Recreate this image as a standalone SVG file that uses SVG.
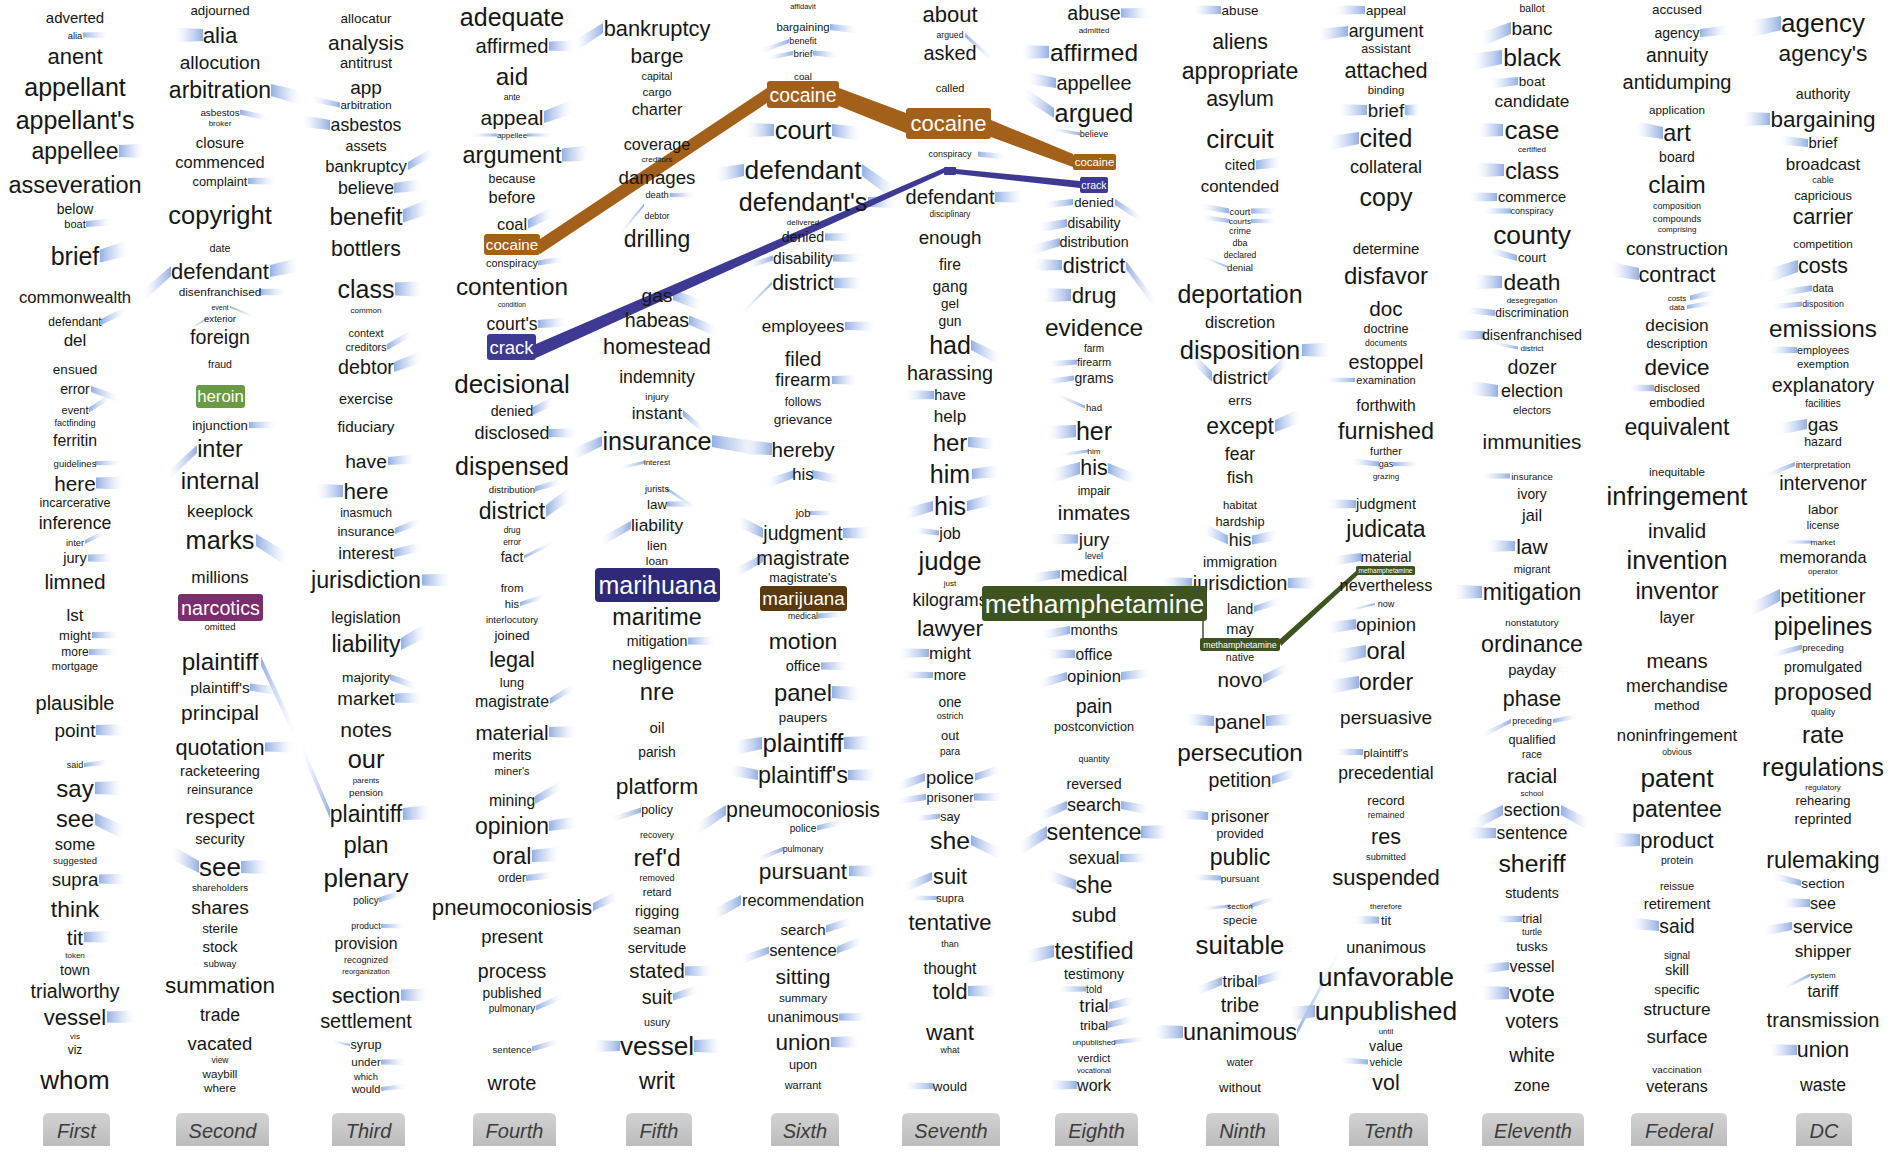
<svg xmlns="http://www.w3.org/2000/svg" width="1890" height="1152" viewBox="0 0 1890 1152">
<style>
.col text{font-family:"Liberation Sans",Arial,sans-serif;fill:#161616;text-anchor:middle;dominant-baseline:central}
.hl text{font-family:"Liberation Sans",Arial,sans-serif;fill:#fff;text-anchor:middle;dominant-baseline:central}
.tabs text{font-family:"Liberation Sans",Arial,sans-serif;font-style:italic;font-size:20px;fill:#3c3c3c;text-anchor:middle;dominant-baseline:central}
.tabs path{fill:url(#tabg)}
.coc{fill:#a3601b}.crk{fill:#3e3a94}.met{fill:#3e5320}
</style>
<defs>
<linearGradient id="gs" x1="0" y1="0" x2="1" y2="0">
<stop offset="0" stop-color="#93afe3" stop-opacity="1"/>
<stop offset="0.5" stop-color="#bccdef" stop-opacity="0.6"/>
<stop offset="1" stop-color="#e6ecf9" stop-opacity="0"/>
</linearGradient>
<linearGradient id="tabg" x1="0" y1="0" x2="0" y2="1">
<stop offset="0" stop-color="#d2d2d2"/><stop offset="1" stop-color="#bcbcbc"/>
</linearGradient>
<path id="s" d="M0,-0.5 L1,-0.6 L1,0.6 L0,0.5 Z" fill="url(#gs)"/>
</defs>
<rect width="1890" height="1152" fill="#fff"/>

<g id="connectors">
<g id="stubs">
<use href="#s" transform="matrix(25 0 0 5 83 35)"/>
<use href="#s" transform="matrix(25 0 0 12 119 151)"/>
<use href="#s" transform="matrix(25 -2 0 6 86 224)"/>
<use href="#s" transform="matrix(28 -8 0 13 100 256)"/>
<use href="#s" transform="matrix(25 -12 0 6 101 322)"/>
<use href="#s" transform="matrix(28 10 0 6 91 389)"/>
<use href="#s" transform="matrix(22 -14 0 5 89 410)"/>
<use href="#s" transform="matrix(25 0 0 4 95 463)"/>
<use href="#s" transform="matrix(28 0 0 11 96 483)"/>
<use href="#s" transform="matrix(20 -10 0 4 85 542)"/>
<use href="#s" transform="matrix(25 0 0 7 88 558)"/>
<use href="#s" transform="matrix(27 0 0 6 92 635)"/>
<use href="#s" transform="matrix(28 0 0 6 89 652)"/>
<use href="#s" transform="matrix(28 0 0 10 96 730)"/>
<use href="#s" transform="matrix(25 -3 0 4 84 765)"/>
<use href="#s" transform="matrix(27 0 0 12 95 788)"/>
<use href="#s" transform="matrix(30 14 0 12 95 819)"/>
<use href="#s" transform="matrix(27 0 0 9 99 879)"/>
<use href="#s" transform="matrix(28 0 0 10 84 937)"/>
<use href="#s" transform="matrix(28 0 0 11 107 1017)"/>

<use href="#s" transform="matrix(30 8 0 12 271 90)"/>
<use href="#s" transform="matrix(28 6 0 5 240 112)"/>
<use href="#s" transform="matrix(28 0 0 6 248 181)"/>
<use href="#s" transform="matrix(28 -6 0 12 270 271)"/>
<use href="#s" transform="matrix(27 0 0 6 259 292)"/>
<use href="#s" transform="matrix(25 10 0 2 230 307)"/>
<use href="#s" transform="matrix(27 0 0 6 249 425)"/>
<use href="#s" transform="matrix(32 20 0 12 256 540)"/>
<use href="#s" transform="matrix(35 75 0 9 261 661)"/>
<use href="#s" transform="matrix(28 4 0 7 250 687)"/>
<use href="#s" transform="matrix(28 0 0 9 265 747)"/>
<use href="#s" transform="matrix(28 0 0 12 241 867)"/>
<use href="#s" transform="matrix(-28 0 0 12 203 35)"/>
<use href="#s" transform="matrix(-28 25 0 10 171 271)"/>
<use href="#s" transform="matrix(-20 12 0 2 208 318)"/>
<use href="#s" transform="matrix(-30 28 0 8 197 449)"/>
<use href="#s" transform="matrix(-28 -15 0 12 199 867)"/>

<use href="#s" transform="matrix(-28 -6 0 5 340 105)"/>
<use href="#s" transform="matrix(-28 -4 0 10 330 125)"/>
<use href="#s" transform="matrix(-27 0 0 12 343 491)"/>
<use href="#s" transform="matrix(-30 -70 0 9 330 814)"/>
<use href="#s" transform="matrix(-18 -4 0 2 350 1045)"/>
<use href="#s" transform="matrix(25 -14 0 8 408 166)"/>
<use href="#s" transform="matrix(27 -3 0 10 394 188)"/>
<use href="#s" transform="matrix(27 -10 0 13 403 216)"/>
<use href="#s" transform="matrix(27 0 0 13 395 289)"/>
<use href="#s" transform="matrix(25 -14 0 6 387 347)"/>
<use href="#s" transform="matrix(27 -10 0 10 394 367)"/>
<use href="#s" transform="matrix(27 -2 0 8 388 461)"/>
<use href="#s" transform="matrix(25 -10 0 6 395 531)"/>
<use href="#s" transform="matrix(27 -6 0 8 394 553)"/>
<use href="#s" transform="matrix(28 0 0 11 422 580)"/>
<use href="#s" transform="matrix(25 -14 0 12 401 644)"/>
<use href="#s" transform="matrix(27 10 0 6 390 677)"/>
<use href="#s" transform="matrix(27 0 0 9 395 698)"/>
<use href="#s" transform="matrix(27 -2 0 12 403 814)"/>
<use href="#s" transform="matrix(25 -8 0 5 379 900)"/>
<use href="#s" transform="matrix(25 0 0 4 381 926)"/>
<use href="#s" transform="matrix(27 0 0 11 401 995)"/>
<use href="#s" transform="matrix(25 0 0 5 381 1062)"/>
<use href="#s" transform="matrix(25 -3 0 4 381 1089)"/>

<use href="#s" transform="matrix(25 0 0 9 549 46)"/>
<use href="#s" transform="matrix(28 -10 0 12 544 117)"/>
<use href="#s" transform="matrix(25 0 0 3 527 135)"/>
<use href="#s" transform="matrix(-25 0 0 3 497 135)"/>
<use href="#s" transform="matrix(27 -2 0 13 562 155)"/>
<use href="#s" transform="matrix(25 -12 0 9 528 224)"/>
<use href="#s" transform="matrix(25 -4 0 5 538 263)"/>
<use href="#s" transform="matrix(28 -2 0 8 538 324)"/>
<use href="#s" transform="matrix(20 -10 0 8 533 411)"/>
<use href="#s" transform="matrix(27 0 0 8 549 433)"/>
<use href="#s" transform="matrix(27 -8 0 5 535 489)"/>
<use href="#s" transform="matrix(25 -18 0 12 546 511)"/>
<use href="#s" transform="matrix(30 -15 0 3 524 557)"/>
<use href="#s" transform="matrix(25 -8 0 4 520 604)"/>
<use href="#s" transform="matrix(25 -15 0 6 550 701)"/>
<use href="#s" transform="matrix(27 0 0 10 549 732)"/>
<use href="#s" transform="matrix(27 -15 0 8 535 800)"/>
<use href="#s" transform="matrix(27 -4 0 10 549 826)"/>
<use href="#s" transform="matrix(27 -2 0 12 532 856)"/>
<use href="#s" transform="matrix(27 -3 0 6 526 878)"/>
<use href="#s" transform="matrix(25 -12 0 8 593 907)"/>
<use href="#s" transform="matrix(27 -12 0 5 536 1008)"/>
<use href="#s" transform="matrix(27 -8 0 5 532 1049)"/>

<use href="#s" transform="matrix(-28 18 0 10 603 28)"/>
<use href="#s" transform="matrix(25 0 0 4 670 195)"/>
<use href="#s" transform="matrix(-25 30 0 3 644 205)"/>
<use href="#s" transform="matrix(28 10 0 10 673 295)"/>
<use href="#s" transform="matrix(28 12 0 9 689 320)"/>
<use href="#s" transform="matrix(22 18 0 6 683 413)"/>
<use href="#s" transform="matrix(50 8 0 12 712 441)"/>
<use href="#s" transform="matrix(-30 14 0 10 602 441)"/>
<use href="#s" transform="matrix(-25 6 0 3 645 462)"/>
<use href="#s" transform="matrix(30 20 0 3 667 489)"/>
<use href="#s" transform="matrix(27 0 0 5 667 504)"/>
<use href="#s" transform="matrix(-30 17 0 8 631 525)"/>
<use href="#s" transform="matrix(27 0 0 7 688 641)"/>
<use href="#s" transform="matrix(-30 10 0 5 641 810)"/>
<use href="#s" transform="matrix(27 0 0 9 685 971)"/>
<use href="#s" transform="matrix(25 -8 0 7 673 997)"/>
<use href="#s" transform="matrix(27 0 0 12 694 1046)"/>
<use href="#s" transform="matrix(-27 0 0 10 620 1046)"/>

<use href="#s" transform="matrix(27 3 0 6 830 27)"/>
<use href="#s" transform="matrix(-28 10 0 4 789 41)"/>
<use href="#s" transform="matrix(25 2 0 5 813 53)"/>
<use href="#s" transform="matrix(-25 5 0 4 793 53)"/>
<use href="#s" transform="matrix(28 4 0 12 832 130)"/>
<use href="#s" transform="matrix(-28 0 0 12 774 130)"/>
<use href="#s" transform="matrix(-28 5 0 12 744 170)"/>
<use href="#s" transform="matrix(35 25 0 12 862 170)"/>
<use href="#s" transform="matrix(28 0 0 10 868 202)"/>
<use href="#s" transform="matrix(27 0 0 7 825 237)"/>
<use href="#s" transform="matrix(28 0 0 7 833 258)"/>
<use href="#s" transform="matrix(-25 8 0 5 773 258)"/>
<use href="#s" transform="matrix(28 0 0 10 834 283)"/>
<use href="#s" transform="matrix(-30 30 0 3 772 283)"/>
<use href="#s" transform="matrix(30 0 0 8 845 326)"/>
<use href="#s" transform="matrix(25 0 0 8 832 380)"/>
<use href="#s" transform="matrix(-28 -2 0 12 772 449)"/>
<use href="#s" transform="matrix(28 6 0 8 812 474)"/>
<use href="#s" transform="matrix(-28 10 0 8 794 474)"/>
<use href="#s" transform="matrix(25 0 0 4 809 513)"/>
<use href="#s" transform="matrix(27 0 0 10 843 533)"/>
<use href="#s" transform="matrix(-25 -12 0 10 763 533)"/>
<use href="#s" transform="matrix(-28 15 0 8 763 558)"/>
<use href="#s" transform="matrix(25 -2 0 5 818 616)"/>
<use href="#s" transform="matrix(27 0 0 7 821 666)"/>
<use href="#s" transform="matrix(28 2 0 12 832 692)"/>
<use href="#s" transform="matrix(28 0 0 12 844 743)"/>
<use href="#s" transform="matrix(-28 5 0 12 762 743)"/>
<use href="#s" transform="matrix(28 0 0 10 848 775)"/>
<use href="#s" transform="matrix(-28 -5 0 10 758 775)"/>
<use href="#s" transform="matrix(-30 20 0 10 726 810)"/>
<use href="#s" transform="matrix(25 -6 0 5 817 828)"/>
<use href="#s" transform="matrix(-25 10 0 4 783 849)"/>
<use href="#s" transform="matrix(28 0 0 10 849 871)"/>
<use href="#s" transform="matrix(-28 15 0 10 741 900)"/>
<use href="#s" transform="matrix(25 -8 0 7 826 929)"/>
<use href="#s" transform="matrix(25 -10 0 7 837 950)"/>
<use href="#s" transform="matrix(-28 10 0 7 769 950)"/>
<use href="#s" transform="matrix(28 0 0 7 839 1017)"/>
<use href="#s" transform="matrix(28 0 0 10 831 1042)"/>

<use href="#s" transform="matrix(28 25 0 4 965 35)"/>
<use href="#s" transform="matrix(28 3 0 5 978 154)"/>
<use href="#s" transform="matrix(28 0 0 10 995 197)"/>
<use href="#s" transform="matrix(30 15 0 10 971 345)"/>
<use href="#s" transform="matrix(27 2 0 10 968 442)"/>
<use href="#s" transform="matrix(27 -3 0 10 972 474)"/>
<use href="#s" transform="matrix(27 -7 0 10 967 506)"/>
<use href="#s" transform="matrix(25 -8 0 7 975 777)"/>
<use href="#s" transform="matrix(28 0 0 7 974 797)"/>
<use href="#s" transform="matrix(30 14 0 10 971 840)"/>
<use href="#s" transform="matrix(28 0 0 10 968 991)"/>
<use href="#s" transform="matrix(-28 0 0 8 934 395)"/>
<use href="#s" transform="matrix(-28 8 0 10 933 506)"/>
<use href="#s" transform="matrix(-25 -3 0 5 939 533)"/>
<use href="#s" transform="matrix(-30 0 0 8 929 653)"/>
<use href="#s" transform="matrix(-30 0 0 6 933 675)"/>
<use href="#s" transform="matrix(-28 10 0 8 925 777)"/>
<use href="#s" transform="matrix(-28 4 0 6 926 797)"/>
<use href="#s" transform="matrix(-25 3 0 5 940 816)"/>
<use href="#s" transform="matrix(-28 12 0 8 932 876)"/>
<use href="#s" transform="matrix(-28 0 0 4 938 898)"/>
<use href="#s" transform="matrix(-30 0 0 6 934 1086)"/>

<use href="#s" transform="matrix(28 0 0 9 1121 13)"/>
<use href="#s" transform="matrix(-28 0 0 12 1049 52)"/>
<use href="#s" transform="matrix(-28 -5 0 10 1056 83)"/>
<use href="#s" transform="matrix(-30 -20 0 10 1054 113)"/>
<use href="#s" transform="matrix(-28 -5 0 3 1080 134)"/>
<use href="#s" transform="matrix(-28 3 0 6 1073 202)"/>
<use href="#s" transform="matrix(28 18 0 6 1115 202)"/>
<use href="#s" transform="matrix(-28 5 0 8 1067 223)"/>
<use href="#s" transform="matrix(-28 8 0 8 1060 242)"/>
<use href="#s" transform="matrix(-28 0 0 10 1062 265)"/>
<use href="#s" transform="matrix(30 40 0 8 1126 265)"/>
<use href="#s" transform="matrix(-28 0 0 12 1071 295)"/>
<use href="#s" transform="matrix(-28 2 0 5 1077 362)"/>
<use href="#s" transform="matrix(-28 4 0 5 1074 378)"/>
<use href="#s" transform="matrix(-28 -12 0 3 1085 407)"/>
<use href="#s" transform="matrix(-28 2 0 12 1076 431)"/>
<use href="#s" transform="matrix(-28 4 0 3 1088 451)"/>
<use href="#s" transform="matrix(-28 8 0 12 1080 468)"/>
<use href="#s" transform="matrix(28 12 0 10 1108 468)"/>
<use href="#s" transform="matrix(-28 0 0 9 1078 539)"/>
<use href="#s" transform="matrix(-28 4 0 8 1060 574)"/>
<use href="#s" transform="matrix(-28 5 0 8 1070 630)"/>
<use href="#s" transform="matrix(-28 0 0 8 1075 654)"/>
<use href="#s" transform="matrix(-28 8 0 8 1067 676)"/>
<use href="#s" transform="matrix(28 -3 0 8 1121 676)"/>
<use href="#s" transform="matrix(-28 12 0 8 1067 805)"/>
<use href="#s" transform="matrix(28 5 0 8 1121 805)"/>
<use href="#s" transform="matrix(-28 17 0 12 1047 832)"/>
<use href="#s" transform="matrix(28 0 0 12 1141 832)"/>
<use href="#s" transform="matrix(28 0 0 8 1120 858)"/>
<use href="#s" transform="matrix(-28 -10 0 10 1076 885)"/>
<use href="#s" transform="matrix(-28 6 0 12 1054 951)"/>
<use href="#s" transform="matrix(-28 0 0 5 1086 989)"/>
<use href="#s" transform="matrix(25 -6 0 7 1109 1006)"/>
<use href="#s" transform="matrix(25 -6 0 6 1108 1025)"/>
<use href="#s" transform="matrix(30 -3 0 4 1115 1042)"/>
<use href="#s" transform="matrix(-28 0 0 8 1077 1085)"/>

<use href="#s" transform="matrix(-28 0 0 8 1221 10)"/>
<use href="#s" transform="matrix(25 -3 0 9 1256 165)"/>
<use href="#s" transform="matrix(-28 -5 0 5 1229 211)"/>
<use href="#s" transform="matrix(25 0 0 5 1251 211)"/>
<use href="#s" transform="matrix(-28 -4 0 4 1230 221)"/>
<use href="#s" transform="matrix(25 0 0 4 1251 221)"/>
<use href="#s" transform="matrix(-25 -10 0 2 1228 267)"/>
<use href="#s" transform="matrix(28 0 0 12 1302 350)"/>
<use href="#s" transform="matrix(-20 -20 0 10 1212 377)"/>
<use href="#s" transform="matrix(20 -18 0 10 1268 377)"/>
<use href="#s" transform="matrix(25 -10 0 12 1275 426)"/>
<use href="#s" transform="matrix(25 -5 0 9 1252 540)"/>
<use href="#s" transform="matrix(-25 -12 0 9 1228 540)"/>
<use href="#s" transform="matrix(-30 0 0 10 1192 583)"/>
<use href="#s" transform="matrix(28 0 0 10 1288 583)"/>
<use href="#s" transform="matrix(25 -8 0 6 1254 609)"/>
<use href="#s" transform="matrix(25 -12 0 8 1263 679)"/>
<use href="#s" transform="matrix(28 -2 0 10 1266 721)"/>
<use href="#s" transform="matrix(-28 -2 0 10 1214 721)"/>
<use href="#s" transform="matrix(25 -8 0 8 1272 780)"/>
<use href="#s" transform="matrix(-28 -2 0 8 1208 816)"/>
<use href="#s" transform="matrix(-28 -1 0 5 1221 878)"/>
<use href="#s" transform="matrix(-28 3 0 3 1230 906)"/>
<use href="#s" transform="matrix(25 -8 0 4 1250 906)"/>
<use href="#s" transform="matrix(25 -7 0 8 1258 981)"/>
<use href="#s" transform="matrix(-25 10 0 8 1222 981)"/>
<use href="#s" transform="matrix(-30 0 0 12 1183 1032)"/>
<use href="#s" transform="matrix(45 -85 0 6 1297 1032)"/>

<use href="#s" transform="matrix(-30 0 0 8 1365 10)"/>
<use href="#s" transform="matrix(-30 4 0 10 1348 31)"/>
<use href="#s" transform="matrix(-28 0 0 10 1367 110)"/>
<use href="#s" transform="matrix(15 0 0 10 1405 110)"/>
<use href="#s" transform="matrix(-30 5 0 12 1359 138)"/>
<use href="#s" transform="matrix(-30 0 0 4 1355 380)"/>
<use href="#s" transform="matrix(-28 -3 0 5 1379 464)"/>
<use href="#s" transform="matrix(25 0 0 4 1393 464)"/>
<use href="#s" transform="matrix(-28 0 0 8 1356 504)"/>
<use href="#s" transform="matrix(-28 4 0 8 1361 557)"/>
<use href="#s" transform="matrix(-25 6 0 2 1375 604)"/>
<use href="#s" transform="matrix(-28 4 0 10 1356 624)"/>
<use href="#s" transform="matrix(-30 6 0 12 1366 651)"/>
<use href="#s" transform="matrix(-30 5 0 12 1359 682)"/>
<use href="#s" transform="matrix(-28 0 0 6 1363 752)"/>
<use href="#s" transform="matrix(-25 0 0 7 1379 920)"/>
<use href="#s" transform="matrix(-25 3 0 12 1315 1011)"/>
<use href="#s" transform="matrix(-28 -2 0 5 1368 1062)"/>

<use href="#s" transform="matrix(-30 12 0 12 1511 28)"/>
<use href="#s" transform="matrix(-30 5 0 14 1502 57)"/>
<use href="#s" transform="matrix(-28 3 0 8 1518 81)"/>
<use href="#s" transform="matrix(-25 0 0 12 1503 130)"/>
<use href="#s" transform="matrix(-28 0 0 12 1504 170)"/>
<use href="#s" transform="matrix(-28 0 0 8 1497 197)"/>
<use href="#s" transform="matrix(-28 0 0 5 1511 211)"/>
<use href="#s" transform="matrix(-28 -8 0 6 1517 258)"/>
<use href="#s" transform="matrix(-28 0 0 12 1502 282)"/>
<use href="#s" transform="matrix(-28 -3 0 6 1495 313)"/>
<use href="#s" transform="matrix(-30 0 0 8 1485 335)"/>
<use href="#s" transform="matrix(-25 -5 0 3 1518 348)"/>
<use href="#s" transform="matrix(-28 -3 0 12 1498 391)"/>
<use href="#s" transform="matrix(-28 0 0 5 1510 476)"/>
<use href="#s" transform="matrix(-28 0 0 10 1515 546)"/>
<use href="#s" transform="matrix(-28 0 0 12 1482 592)"/>
<use href="#s" transform="matrix(-30 15 0 4 1511 721)"/>
<use href="#s" transform="matrix(25 -5 0 4 1553 721)"/>
<use href="#s" transform="matrix(-30 15 0 10 1503 810)"/>
<use href="#s" transform="matrix(28 15 0 10 1561 810)"/>
<use href="#s" transform="matrix(-28 0 0 10 1496 833)"/>
<use href="#s" transform="matrix(-28 0 0 6 1522 919)"/>
<use href="#s" transform="matrix(-28 3 0 8 1509 966)"/>
<use href="#s" transform="matrix(-28 0 0 12 1509 993)"/>

<use href="#s" transform="matrix(28 -3 0 8 1700 33)"/>
<use href="#s" transform="matrix(-28 -5 0 12 1663 133)"/>
<use href="#s" transform="matrix(-28 -5 0 12 1639 274)"/>
<use href="#s" transform="matrix(25 -6 0 5 1690 298)"/>
<use href="#s" transform="matrix(25 -4 0 4 1687 307)"/>
<use href="#s" transform="matrix(-25 0 0 6 1654 388)"/>
<use href="#s" transform="matrix(-28 0 0 12 1640 840)"/>
<use href="#s" transform="matrix(-28 -3 0 10 1659 926)"/>

<use href="#s" transform="matrix(-30 6 0 14 1781 23)"/>
<use href="#s" transform="matrix(-28 0 0 12 1770 119)"/>
<use href="#s" transform="matrix(-28 -3 0 8 1808 143)"/>
<use href="#s" transform="matrix(-30 10 0 12 1798 266)"/>
<use href="#s" transform="matrix(-30 5 0 6 1812 288)"/>
<use href="#s" transform="matrix(-30 3 0 5 1802 304)"/>
<use href="#s" transform="matrix(-28 0 0 6 1797 350)"/>
<use href="#s" transform="matrix(-28 5 0 10 1807 424)"/>
<use href="#s" transform="matrix(-30 12 0 4 1795 464)"/>
<use href="#s" transform="matrix(-28 0 0 3 1812 542)"/>
<use href="#s" transform="matrix(-30 15 0 12 1780 595)"/>
<use href="#s" transform="matrix(-30 8 0 5 1802 647)"/>
<use href="#s" transform="matrix(-28 -7 0 6 1801 883)"/>
<use href="#s" transform="matrix(-28 0 0 8 1810 903)"/>
<use href="#s" transform="matrix(-28 5 0 8 1792 926)"/>
<use href="#s" transform="matrix(-28 14 0 3 1810 975)"/>
<use href="#s" transform="matrix(-28 0 0 10 1797 1050)"/>
</g>
<g id="trails">
<polygon class="coc" points="540,239 767,88 767,103 540,254"/>
<polygon class="coc" points="839,88 906,113 906,133 839,106"/>
<polygon class="coc" points="991,120 1073,154 1073,167 991,137"/>
<polygon class="crk" points="536,344 944,168 944,173 536,358"/>
<polygon class="crk" points="956,169 1080,181 1080,188 956,174"/>
<line x1="1203" y1="621" x2="1203" y2="638" stroke="#3e5320" stroke-width="1.5"/>
<polygon class="met" points="1279,640 1357,570 1359,574 1281,646"/>
</g>
</g>

<g id="col-first" class="col" transform="translate(75 0)">
<text y="17" font-size="15">adverted</text>
<text y="35" font-size="9.4">alia</text>
<text y="56" font-size="22">anent</text>
<text y="87" font-size="25">appellant</text>
<text y="120" font-size="25">appellant's</text>
<text y="151" font-size="23">appellee</text>
<text y="185" font-size="23.5">asseveration</text>
<text y="209" font-size="14">below</text>
<text y="224" font-size="11">boat</text>
<text y="256" font-size="25">brief</text>
<text y="297" font-size="16.7">commonwealth</text>
<text y="322" font-size="12">defendant</text>
<text y="340" font-size="17">del</text>
<text y="369" font-size="13.5">ensued</text>
<text y="389" font-size="14">error</text>
<text y="410" font-size="11">event</text>
<text y="423" font-size="9">factfinding</text>
<text y="440" font-size="15.8">ferritin</text>
<text y="463" font-size="9.5">guidelines</text>
<text y="483" font-size="20.7">here</text>
<text y="503" font-size="12.5">incarcerative</text>
<text y="523" font-size="17.7">inference</text>
<text y="542" font-size="9.4">inter</text>
<text y="558" font-size="14.5">jury</text>
<text y="581" font-size="20.8">limned</text>
<text y="615" font-size="17">lst</text>
<text y="635" font-size="13">might</text>
<text y="652" font-size="12">more</text>
<text y="666" font-size="11">mortgage</text>
<text y="703" font-size="20">plausible</text>
<text y="730" font-size="19">point</text>
<text y="765" font-size="9">said</text>
<text y="788" font-size="24">say</text>
<text y="819" font-size="23.6">see</text>
<text y="844" font-size="16.5">some</text>
<text y="860" font-size="9.5">suggested</text>
<text y="879" font-size="18.7">supra</text>
<text y="909" font-size="22.9">think</text>
<text y="937" font-size="21">tit</text>
<text y="955" font-size="8">token</text>
<text y="970" font-size="14.2">town</text>
<text y="991" font-size="19.5">trialworthy</text>
<text y="1017" font-size="22">vessel</text>
<text y="1036" font-size="8">vis</text>
<text y="1050" font-size="12">viz</text>
<text y="1080" font-size="26">whom</text>
</g>

<g id="col-second" class="col" transform="translate(220 0)">
<text y="10" font-size="13.3">adjourned</text>
<text y="35" font-size="22.3">alia</text>
<text y="62" font-size="19.1">allocution</text>
<text y="90" font-size="23">arbitration</text>
<text y="112" font-size="9.8">asbestos</text>
<text y="123" font-size="8">broker</text>
<text y="142" font-size="15">closure</text>
<text y="162" font-size="16.4">commenced</text>
<text y="181" font-size="12.8">complaint</text>
<text y="215" font-size="25.5">copyright</text>
<text y="248" font-size="10.8">date</text>
<text y="271" font-size="22">defendant</text>
<text y="292" font-size="11.8">disenfranchised</text>
<text y="307" font-size="7">event</text>
<text y="318" font-size="9.6">exterior</text>
<text y="337" font-size="19.6">foreign</text>
<text y="364" font-size="10.5">fraud</text>
<text y="425" font-size="13.2">injunction</text>
<text y="449" font-size="23.5">inter</text>
<text y="480" font-size="24">internal</text>
<text y="511" font-size="16.7">keeplock</text>
<text y="540" font-size="25.3">marks</text>
<text y="577" font-size="17.2">millions</text>
<text y="626" font-size="9.5">omitted</text>
<text y="661" font-size="24.3">plaintiff</text>
<text y="687" font-size="15.5">plaintiff's</text>
<text y="712" font-size="20.9">principal</text>
<text y="747" font-size="21.7">quotation</text>
<text y="771" font-size="14.5">racketeering</text>
<text y="790" font-size="12.6">reinsurance</text>
<text y="816" font-size="21">respect</text>
<text y="839" font-size="14.4">security</text>
<text y="867" font-size="26">see</text>
<text y="887" font-size="9.7">shareholders</text>
<text y="907" font-size="19.2">shares</text>
<text y="928" font-size="13.4">sterile</text>
<text y="946" font-size="15">stock</text>
<text y="963" font-size="9.7">subway</text>
<text y="985" font-size="22.5">summation</text>
<text y="1015" font-size="17.6">trade</text>
<text y="1043" font-size="18.5">vacated</text>
<text y="1060" font-size="8.5">view</text>
<text y="1073" font-size="11.6">waybill</text>
<text y="1088" font-size="11.8">where</text>
</g>

<g id="col-third" class="col" transform="translate(366 0)">
<text y="18" font-size="13.5">allocatur</text>
<text y="42" font-size="21">analysis</text>
<text y="63" font-size="14.7">antitrust</text>
<text y="87" font-size="19">app</text>
<text y="105" font-size="11.5">arbitration</text>
<text y="125" font-size="17.7">asbestos</text>
<text y="146" font-size="14.2">assets</text>
<text y="166" font-size="16.7">bankruptcy</text>
<text y="188" font-size="17.7">believe</text>
<text y="216" font-size="24.4">benefit</text>
<text y="249" font-size="21.3">bottlers</text>
<text y="289" font-size="25">class</text>
<text y="310" font-size="8.1">common</text>
<text y="333" font-size="10.9">context</text>
<text y="347" font-size="10.7">creditors</text>
<text y="367" font-size="19.7">debtor</text>
<text y="399" font-size="14.5">exercise</text>
<text y="426" font-size="15.3">fiduciary</text>
<text y="461" font-size="19.2">have</text>
<text y="491" font-size="22.5">here</text>
<text y="513" font-size="12.1">inasmuch</text>
<text y="531" font-size="13.2">insurance</text>
<text y="553" font-size="17">interest</text>
<text y="580" font-size="23.3">jurisdiction</text>
<text y="617" font-size="15.6">legislation</text>
<text y="644" font-size="23">liability</text>
<text y="677" font-size="13.7">majority</text>
<text y="698" font-size="18.8">market</text>
<text y="729" font-size="21.1">notes</text>
<text y="759" font-size="25.4">our</text>
<text y="780" font-size="8">parents</text>
<text y="792" font-size="9.7">pension</text>
<text y="814" font-size="23">plaintiff</text>
<text y="844" font-size="23.8">plan</text>
<text y="878" font-size="25.9">plenary</text>
<text y="900" font-size="10">policy</text>
<text y="926" font-size="8.8">product</text>
<text y="943" font-size="15.8">provision</text>
<text y="960" font-size="9">recognized</text>
<text y="971" font-size="7.5">reorganization</text>
<text y="995" font-size="21.7">section</text>
<text y="1021" font-size="19.9">settlement</text>
<text y="1045" font-size="12.7">syrup</text>
<text y="1062" font-size="11.5">under</text>
<text y="1076" font-size="9.4">which</text>
<text y="1089" font-size="11">would</text>
</g>

<g id="col-fourth" class="col" transform="translate(512 0)">
<text y="17" font-size="25">adequate</text>
<text y="46" font-size="20.3">affirmed</text>
<text y="76" font-size="24.2">aid</text>
<text y="97" font-size="8.6">ante</text>
<text y="117" font-size="21">appeal</text>
<text y="135" font-size="8">appellee</text>
<text y="155" font-size="23.4">argument</text>
<text y="179" font-size="12.4">because</text>
<text y="197" font-size="16.5">before</text>
<text y="224" font-size="16.4">coal</text>
<text y="263" font-size="10.9">conspiracy</text>
<text y="286" font-size="24.3">contention</text>
<text y="304" font-size="7">condition</text>
<text y="324" font-size="17.5">court's</text>
<text y="384" font-size="26">decisional</text>
<text y="411" font-size="14.2">denied</text>
<text y="433" font-size="18">disclosed</text>
<text y="466" font-size="25">dispensed</text>
<text y="489" font-size="9.6">distribution</text>
<text y="511" font-size="23">district</text>
<text y="530" font-size="8.4">drug</text>
<text y="542" font-size="8.4">error</text>
<text y="557" font-size="14">fact</text>
<text y="588" font-size="11.3">from</text>
<text y="604" font-size="11.2">his</text>
<text y="619" font-size="9.6">interlocutory</text>
<text y="635" font-size="13.2">joined</text>
<text y="659" font-size="21.6">legal</text>
<text y="682" font-size="12.9">lung</text>
<text y="701" font-size="15.9">magistrate</text>
<text y="732" font-size="20.6">material</text>
<text y="755" font-size="14.3">merits</text>
<text y="771" font-size="11">miner's</text>
<text y="800" font-size="15.7">mining</text>
<text y="826" font-size="23">opinion</text>
<text y="856" font-size="23.4">oral</text>
<text y="878" font-size="12">order</text>
<text y="907" font-size="22.2">pneumoconiosis</text>
<text y="936" font-size="18.5">present</text>
<text y="971" font-size="19.5">process</text>
<text y="993" font-size="13.8">published</text>
<text y="1008" font-size="10">pulmonary</text>
<text y="1049" font-size="9.6">sentence</text>
<text y="1083" font-size="20">wrote</text>
</g>

<g id="col-fifth" class="col" transform="translate(657 0)">
<text y="28" font-size="21.8">bankruptcy</text>
<text y="55" font-size="20.8">barge</text>
<text y="76" font-size="10.7">capital</text>
<text y="91" font-size="11.7">cargo</text>
<text y="109" font-size="16.3">charter</text>
<text y="144" font-size="16.2">coverage</text>
<text y="159" font-size="8.1">creditors</text>
<text y="177" font-size="18.7">damages</text>
<text y="195" font-size="9.3">death</text>
<text y="216" font-size="8.8">debtor</text>
<text y="239" font-size="23">drilling</text>
<text y="295" font-size="19.2">gas</text>
<text y="320" font-size="19.6">habeas</text>
<text y="346" font-size="21.8">homestead</text>
<text y="377" font-size="17.7">indemnity</text>
<text y="396" font-size="9.8">injury</text>
<text y="413" font-size="17.2">instant</text>
<text y="441" font-size="25.2">insurance</text>
<text y="462" font-size="8">interest</text>
<text y="489" font-size="9.2">jurists</text>
<text y="504" font-size="13.3">law</text>
<text y="525" font-size="17.4">liability</text>
<text y="545" font-size="12.9">lien</text>
<text y="561" font-size="11.8">loan</text>
<text y="617" font-size="23.3">maritime</text>
<text y="641" font-size="14.2">mitigation</text>
<text y="663" font-size="18.6">negligence</text>
<text y="691" font-size="23.8">nre</text>
<text y="727" font-size="15">oil</text>
<text y="752" font-size="13.8">parish</text>
<text y="786" font-size="22.8">platform</text>
<text y="810" font-size="12.4">policy</text>
<text y="835" font-size="8.9">recovery</text>
<text y="857" font-size="24.7">ref'd</text>
<text y="878" font-size="9">removed</text>
<text y="892" font-size="10.9">retard</text>
<text y="911" font-size="14.7">rigging</text>
<text y="929" font-size="13.4">seaman</text>
<text y="948" font-size="14.4">servitude</text>
<text y="971" font-size="20.4">stated</text>
<text y="997" font-size="19.7">suit</text>
<text y="1022" font-size="10.6">usury</text>
<text y="1046" font-size="26.2">vessel</text>
<text y="1081" font-size="23">writ</text>
</g>

<g id="col-sixth" class="col" transform="translate(803 0)">
<text y="6" font-size="7.5">affidavit</text>
<text y="27" font-size="11.4">bargaining</text>
<text y="41" font-size="9.1">benefit</text>
<text y="53" font-size="9.8">brief</text>
<text y="76" font-size="9.8">coal</text>
<text y="130" font-size="25.5">court</text>
<text y="170" font-size="26.3">defendant</text>
<text y="202" font-size="25">defendant's</text>
<text y="222" font-size="8">delivered</text>
<text y="237" font-size="14.1">denied</text>
<text y="258" font-size="15.6">disability</text>
<text y="283" font-size="21.3">district</text>
<text y="326" font-size="17.1">employees</text>
<text y="359" font-size="20">filed</text>
<text y="380" font-size="17.8">firearm</text>
<text y="402" font-size="12">follows</text>
<text y="419" font-size="13.5">grievance</text>
<text y="449" font-size="20.7">hereby</text>
<text y="474" font-size="16.7">his</text>
<text y="513" font-size="11">job</text>
<text y="533" font-size="19.3">judgment</text>
<text y="558" font-size="20">magistrate</text>
<text y="578" font-size="12.6">magistrate's</text>
<text y="616" font-size="8.7">medical</text>
<text y="641" font-size="22.9">motion</text>
<text y="666" font-size="14.6">office</text>
<text y="692" font-size="23.8">panel</text>
<text y="717" font-size="13.4">paupers</text>
<text y="743" font-size="25.7">plaintiff</text>
<text y="775" font-size="23.4">plaintiff's</text>
<text y="810" font-size="21.3">pneumoconiosis</text>
<text y="828" font-size="10.2">police</text>
<text y="849" font-size="8.7">pulmonary</text>
<text y="871" font-size="22.7">pursuant</text>
<text y="900" font-size="16.4">recommendation</text>
<text y="929" font-size="15">search</text>
<text y="950" font-size="16.7">sentence</text>
<text y="976" font-size="21">sitting</text>
<text y="997" font-size="11.7">summary</text>
<text y="1017" font-size="14.5">unanimous</text>
<text y="1042" font-size="22.5">union</text>
<text y="1065" font-size="12.7">upon</text>
<text y="1085" font-size="11">warrant</text>
</g>

<g id="col-seventh" class="col" transform="translate(950 0)">
<text y="14" font-size="22">about</text>
<text y="35" font-size="8.7">argued</text>
<text y="53" font-size="19.9">asked</text>
<text y="88" font-size="11">called</text>
<text y="154" font-size="9">conspiracy</text>
<text y="197" font-size="20">defendant</text>
<text y="214" font-size="8.3">disciplinary</text>
<text y="237" font-size="18.8">enough</text>
<text y="264" font-size="15.7">fire</text>
<text y="286" font-size="15.7">gang</text>
<text y="303" font-size="13.5">gel</text>
<text y="321" font-size="13.8">gun</text>
<text y="345" font-size="25">had</text>
<text y="373" font-size="19.8">harassing</text>
<text y="395" font-size="14.5">have</text>
<text y="416" font-size="17.2">help</text>
<text y="442" font-size="24">her</text>
<text y="474" font-size="25">him</text>
<text y="506" font-size="25">his</text>
<text y="533" font-size="16">job</text>
<text y="561" font-size="25.7">judge</text>
<text y="583" font-size="8">just</text>
<text y="600" font-size="17.5">kilograms</text>
<text y="628" font-size="22.9">lawyer</text>
<text y="653" font-size="17.2">might</text>
<text y="675" font-size="14.3">more</text>
<text y="702" font-size="13.8">one</text>
<text y="716" font-size="9">ostrich</text>
<text y="735" font-size="13">out</text>
<text y="751" font-size="10">para</text>
<text y="777" font-size="18.4">police</text>
<text y="797" font-size="13">prisoner</text>
<text y="816" font-size="13">say</text>
<text y="840" font-size="24.8">she</text>
<text y="876" font-size="21.8">suit</text>
<text y="898" font-size="11">supra</text>
<text y="922" font-size="22">tentative</text>
<text y="944" font-size="9">than</text>
<text y="968" font-size="15.9">thought</text>
<text y="991" font-size="21.7">told</text>
<text y="1032" font-size="22.8">want</text>
<text y="1050" font-size="9">what</text>
<text y="1086" font-size="13">would</text>
</g>

<g id="col-eighth" class="col" transform="translate(1094 0)">
<text y="13" font-size="19.6">abuse</text>
<text y="30" font-size="8">admitted</text>
<text y="52" font-size="24.5">affirmed</text>
<text y="83" font-size="19.8">appellee</text>
<text y="113" font-size="25.3">argued</text>
<text y="134" font-size="9">believe</text>
<text y="202" font-size="13.2">denied</text>
<text y="223" font-size="13.8">disability</text>
<text y="242" font-size="14.3">distribution</text>
<text y="265" font-size="21.7">district</text>
<text y="295" font-size="22.3">drug</text>
<text y="327" font-size="24.5">evidence</text>
<text y="348" font-size="10">farm</text>
<text y="362" font-size="11">firearm</text>
<text y="378" font-size="14">grams</text>
<text y="407" font-size="9.6">had</text>
<text y="431" font-size="25">her</text>
<text y="451" font-size="8">him</text>
<text y="468" font-size="21.4">his</text>
<text y="491" font-size="12">impair</text>
<text y="512" font-size="20.7">inmates</text>
<text y="539" font-size="19">jury</text>
<text y="556" font-size="8.8">level</text>
<text y="574" font-size="19.4">medical</text>
<text y="630" font-size="14.4">months</text>
<text y="654" font-size="15.6">office</text>
<text y="676" font-size="16.7">opinion</text>
<text y="706" font-size="19.4">pain</text>
<text y="727" font-size="12.6">postconviction</text>
<text y="759" font-size="8.9">quantity</text>
<text y="784" font-size="14.2">reversed</text>
<text y="805" font-size="18">search</text>
<text y="832" font-size="23.4">sentence</text>
<text y="858" font-size="17.5">sexual</text>
<text y="885" font-size="23">she</text>
<text y="914" font-size="20.6">subd</text>
<text y="951" font-size="23">testified</text>
<text y="974" font-size="14">testimony</text>
<text y="989" font-size="10">told</text>
<text y="1006" font-size="18.2">trial</text>
<text y="1025" font-size="13">tribal</text>
<text y="1042" font-size="8">unpublished</text>
<text y="1058" font-size="11">verdict</text>
<text y="1070" font-size="7.5">vocational</text>
<text y="1085" font-size="16">work</text>
</g>

<g id="col-ninth" class="col" transform="translate(1240 0)">
<text y="10" font-size="13.5">abuse</text>
<text y="42" font-size="21.3">aliens</text>
<text y="71" font-size="23">appropriate</text>
<text y="99" font-size="21.4">asylum</text>
<text y="139" font-size="25.9">circuit</text>
<text y="165" font-size="14.4">cited</text>
<text y="186" font-size="16.8">contended</text>
<text y="211" font-size="9.4">court</text>
<text y="221" font-size="8">courts</text>
<text y="231" font-size="9">crime</text>
<text y="243" font-size="9">dba</text>
<text y="255" font-size="8.5">declared</text>
<text y="267" font-size="9.7">denial</text>
<text y="294" font-size="25">deportation</text>
<text y="322" font-size="16.4">discretion</text>
<text y="350" font-size="25.5">disposition</text>
<text y="377" font-size="19">district</text>
<text y="400" font-size="13.7">errs</text>
<text y="426" font-size="23">except</text>
<text y="454" font-size="17.6">fear</text>
<text y="477" font-size="17.1">fish</text>
<text y="505" font-size="11.3">habitat</text>
<text y="521" font-size="12.8">hardship</text>
<text y="540" font-size="17.7">his</text>
<text y="562" font-size="14.3">immigration</text>
<text y="583" font-size="20">jurisdiction</text>
<text y="609" font-size="13.9">land</text>
<text y="629" font-size="14.6">may</text>
<text y="657" font-size="10.6">native</text>
<text y="679" font-size="20.7">novo</text>
<text y="721" font-size="20.9">panel</text>
<text y="752" font-size="24.3">persecution</text>
<text y="780" font-size="19.5">petition</text>
<text y="816" font-size="16">prisoner</text>
<text y="834" font-size="12.3">provided</text>
<text y="857" font-size="23.2">public</text>
<text y="878" font-size="9.9">pursuant</text>
<text y="906" font-size="8">section</text>
<text y="920" font-size="11.8">specie</text>
<text y="945" font-size="25.8">suitable</text>
<text y="981" font-size="16.2">tribal</text>
<text y="1005" font-size="19.7">tribe</text>
<text y="1032" font-size="23.3">unanimous</text>
<text y="1062" font-size="10.8">water</text>
<text y="1087" font-size="13.2">without</text>
</g>

<g id="col-tenth" class="col" transform="translate(1386 0)">
<text y="10" font-size="13.3">appeal</text>
<text y="31" font-size="17.7">argument</text>
<text y="49" font-size="12.5">assistant</text>
<text y="70" font-size="21.7">attached</text>
<text y="90" font-size="11.4">binding</text>
<text y="110" font-size="18.7">brief</text>
<text y="138" font-size="25">cited</text>
<text y="167" font-size="18">collateral</text>
<text y="197" font-size="25">copy</text>
<text y="248" font-size="15">determine</text>
<text y="275" font-size="24">disfavor</text>
<text y="308" font-size="20.7">doc</text>
<text y="329" font-size="12.6">doctrine</text>
<text y="343" font-size="8.6">documents</text>
<text y="362" font-size="19.8">estoppel</text>
<text y="380" font-size="11">examination</text>
<text y="405" font-size="15.7">forthwith</text>
<text y="431" font-size="23.4">furnished</text>
<text y="451" font-size="11">further</text>
<text y="464" font-size="9.1">gas</text>
<text y="476" font-size="8">grazing</text>
<text y="504" font-size="14.6">judgment</text>
<text y="529" font-size="23">judicata</text>
<text y="557" font-size="14.3">material</text>
<text y="585" font-size="16.4">nevertheless</text>
<text y="604" font-size="9.1">now</text>
<text y="624" font-size="18.6">opinion</text>
<text y="651" font-size="23.5">oral</text>
<text y="682" font-size="23.3">order</text>
<text y="717" font-size="19">persuasive</text>
<text y="752" font-size="11.7">plaintiff's</text>
<text y="773" font-size="17.5">precedential</text>
<text y="800" font-size="13.2">record</text>
<text y="815" font-size="8.8">remained</text>
<text y="836" font-size="21.6">res</text>
<text y="857" font-size="9.2">submitted</text>
<text y="877" font-size="22">suspended</text>
<text y="906" font-size="8">therefore</text>
<text y="920" font-size="12.9">tit</text>
<text y="947" font-size="16.3">unanimous</text>
<text y="977" font-size="26">unfavorable</text>
<text y="1011" font-size="26.4">unpublished</text>
<text y="1031" font-size="8">until</text>
<text y="1046" font-size="14.2">value</text>
<text y="1062" font-size="10.5">vehicle</text>
<text y="1083" font-size="21.4">vol</text>
</g>

<g id="col-eleventh" class="col" transform="translate(1532 0)">
<text y="8" font-size="10.5">ballot</text>
<text y="28" font-size="19">banc</text>
<text y="57" font-size="24.7">black</text>
<text y="81" font-size="13.5">boat</text>
<text y="101" font-size="17.3">candidate</text>
<text y="130" font-size="26">case</text>
<text y="149" font-size="8">certified</text>
<text y="170" font-size="23.8">class</text>
<text y="197" font-size="14.6">commerce</text>
<text y="211" font-size="9">conspiracy</text>
<text y="235" font-size="26.4">county</text>
<text y="258" font-size="12.7">court</text>
<text y="282" font-size="22.8">death</text>
<text y="300" font-size="8">desegregation</text>
<text y="313" font-size="12">discrimination</text>
<text y="335" font-size="14.3">disenfranchised</text>
<text y="348" font-size="8">district</text>
<text y="367" font-size="19.6">dozer</text>
<text y="391" font-size="18">election</text>
<text y="410" font-size="10.8">electors</text>
<text y="441" font-size="20.7">immunities</text>
<text y="476" font-size="9.6">insurance</text>
<text y="494" font-size="13.9">ivory</text>
<text y="515" font-size="16.4">jail</text>
<text y="546" font-size="21.1">law</text>
<text y="569" font-size="11">migrant</text>
<text y="592" font-size="23">mitigation</text>
<text y="622" font-size="9.7">nonstatutory</text>
<text y="644" font-size="23.2">ordinance</text>
<text y="670" font-size="14.8">payday</text>
<text y="699" font-size="21.4">phase</text>
<text y="721" font-size="9">preceding</text>
<text y="740" font-size="12.7">qualified</text>
<text y="754" font-size="10.3">race</text>
<text y="775" font-size="21">racial</text>
<text y="793" font-size="8">school</text>
<text y="810" font-size="17.8">section</text>
<text y="833" font-size="17.5">sentence</text>
<text y="863" font-size="24.8">sheriff</text>
<text y="893" font-size="14.2">students</text>
<text y="919" font-size="12.4">trial</text>
<text y="932" font-size="9">turtle</text>
<text y="946" font-size="13.6">tusks</text>
<text y="966" font-size="15.9">vessel</text>
<text y="993" font-size="24.2">vote</text>
<text y="1021" font-size="19.5">voters</text>
<text y="1055" font-size="19.6">white</text>
<text y="1085" font-size="16.5">zone</text>
</g>

<g id="col-federal" class="col" transform="translate(1677 0)">
<text y="9" font-size="13.4">accused</text>
<text y="33" font-size="14">agency</text>
<text y="55" font-size="19.3">annuity</text>
<text y="82" font-size="20">antidumping</text>
<text y="109" font-size="11.7">application</text>
<text y="133" font-size="23.4">art</text>
<text y="157" font-size="14">board</text>
<text y="184" font-size="24.6">claim</text>
<text y="206" font-size="9">composition</text>
<text y="218" font-size="9.4">compounds</text>
<text y="229" font-size="8">comprising</text>
<text y="248" font-size="18.9">construction</text>
<text y="274" font-size="21.7">contract</text>
<text y="298" font-size="8">costs</text>
<text y="307" font-size="8">data</text>
<text y="325" font-size="17.3">decision</text>
<text y="344" font-size="12.6">description</text>
<text y="367" font-size="22.5">device</text>
<text y="388" font-size="11">disclosed</text>
<text y="403" font-size="12.6">embodied</text>
<text y="427" font-size="23">equivalent</text>
<text y="471" font-size="11.6">inequitable</text>
<text y="496" font-size="25.6">infringement</text>
<text y="530" font-size="20.5">invalid</text>
<text y="560" font-size="25.2">invention</text>
<text y="591" font-size="23.4">inventor</text>
<text y="617" font-size="16.2">layer</text>
<text y="661" font-size="20.4">means</text>
<text y="686" font-size="17.8">merchandise</text>
<text y="705" font-size="13.6">method</text>
<text y="735" font-size="16.8">noninfringement</text>
<text y="752" font-size="8.5">obvious</text>
<text y="778" font-size="26.3">patent</text>
<text y="809" font-size="23.1">patentee</text>
<text y="840" font-size="22">product</text>
<text y="860" font-size="10.5">protein</text>
<text y="886" font-size="10.6">reissue</text>
<text y="904" font-size="14.8">retirement</text>
<text y="926" font-size="19.3">said</text>
<text y="955" font-size="10">signal</text>
<text y="970" font-size="14.4">skill</text>
<text y="989" font-size="13.6">specific</text>
<text y="1009" font-size="17.3">structure</text>
<text y="1036" font-size="18.6">surface</text>
<text y="1069" font-size="9.9">vaccination</text>
<text y="1086" font-size="16.1">veterans</text>
</g>

<g id="col-dc" class="col" transform="translate(1823 0)">
<text y="23" font-size="26">agency</text>
<text y="53" font-size="22.7">agency's</text>
<text y="94" font-size="14.2">authority</text>
<text y="119" font-size="22.5">bargaining</text>
<text y="143" font-size="14.9">brief</text>
<text y="164" font-size="17">broadcast</text>
<text y="180" font-size="9">cable</text>
<text y="195" font-size="12.8">capricious</text>
<text y="217" font-size="21.3">carrier</text>
<text y="243" font-size="11.6">competition</text>
<text y="266" font-size="21.4">costs</text>
<text y="288" font-size="10.8">data</text>
<text y="304" font-size="8.8">disposition</text>
<text y="328" font-size="24.3">emissions</text>
<text y="350" font-size="10.8">employees</text>
<text y="364" font-size="11.3">exemption</text>
<text y="385" font-size="19.8">explanatory</text>
<text y="403" font-size="10">facilities</text>
<text y="424" font-size="19">gas</text>
<text y="442" font-size="12.3">hazard</text>
<text y="464" font-size="9.4">interpretation</text>
<text y="483" font-size="19.7">intervenor</text>
<text y="509" font-size="13.6">labor</text>
<text y="525" font-size="10.4">license</text>
<text y="542" font-size="8">market</text>
<text y="557" font-size="16.3">memoranda</text>
<text y="571" font-size="8">operator</text>
<text y="595" font-size="20.8">petitioner</text>
<text y="626" font-size="25">pipelines</text>
<text y="647" font-size="9.5">preceding</text>
<text y="667" font-size="14">promulgated</text>
<text y="692" font-size="23.6">proposed</text>
<text y="712" font-size="8.4">quality</text>
<text y="734" font-size="24.4">rate</text>
<text y="767" font-size="24.9">regulations</text>
<text y="787" font-size="8">regulatory</text>
<text y="800" font-size="13">rehearing</text>
<text y="819" font-size="14.4">reprinted</text>
<text y="860" font-size="23.2">rulemaking</text>
<text y="883" font-size="13.7">section</text>
<text y="903" font-size="16.1">see</text>
<text y="926" font-size="19">service</text>
<text y="951" font-size="17.3">shipper</text>
<text y="975" font-size="8">system</text>
<text y="991" font-size="16">tariff</text>
<text y="1020" font-size="20.1">transmission</text>
<text y="1050" font-size="21.4">union</text>
<text y="1085" font-size="17.6">waste</text>
</g>

<g class="hl">
<g id="node-heroin"><rect x="196" y="385" width="49" height="23" rx="3" fill="#6b9a44"/><text x="220.5" y="396.5" font-size="16.8">heroin</text></g>
<g id="node-narcotics"><rect x="178" y="594" width="85" height="27" rx="3" fill="#7b2d6e"/><text x="220.5" y="607.5" font-size="19.7">narcotics</text></g>
<g id="node-cocaine-4"><rect x="484" y="234" width="56" height="21" rx="3" class="coc"/><text x="512" y="244.5" font-size="15.2">cocaine</text></g>
<g id="node-crack-4"><rect x="487" y="334" width="49" height="26" rx="3" class="crk"/><text x="511.5" y="347" font-size="18.5">crack</text></g>
<g id="node-marihuana"><rect x="595" y="568" width="125" height="34" rx="4" fill="#2e2a78"/><text x="657.5" y="585" font-size="25">marihuana</text></g>
<g id="node-cocaine-6"><rect x="767" y="81" width="72" height="27" rx="3" class="coc"/><text x="803" y="94.5" font-size="19.4">cocaine</text></g>
<g id="node-marijuana"><rect x="760" y="586" width="87" height="25" rx="3" fill="#5a3a0c"/><text x="803.5" y="598.5" font-size="18.8">marijuana</text></g>
<g id="node-cocaine-7"><rect x="906" y="108" width="85" height="31" rx="3" class="coc"/><text x="948.5" y="123.5" font-size="22">cocaine</text></g>
<g id="node-crack-7"><rect x="944" y="167" width="12" height="8" rx="1" class="crk"/></g>
<g id="node-cocaine-8"><rect x="1073" y="154" width="43" height="16" rx="2" class="coc"/><text x="1094.5" y="162" font-size="11.5">cocaine</text></g>
<g id="node-crack-8"><rect x="1080" y="177" width="28" height="16" rx="2" class="crk"/><text x="1094" y="185" font-size="10.6">crack</text></g>
<g id="node-meth-8"><rect x="982" y="586" width="225" height="35" rx="3" class="met"/><text x="1094.5" y="603.5" font-size="26.5">methamphetamine</text></g>
<g id="node-meth-9"><rect x="1200" y="638" width="80" height="13" rx="2" class="met"/><text x="1240" y="644.5" font-size="8.9">methamphetamine</text></g>
<g id="node-meth-10"><rect x="1356" y="566" width="59" height="9" rx="1.5" class="met"/><text x="1385.5" y="570.5" font-size="6.5">methamphetamine</text></g>
</g>

<g id="tabs" class="tabs">
<path d="M43,1146 V1119 Q43,1113 49,1113 H104 Q110,1113 110,1119 V1146 Z"/><text x="76.5" y="1131">First</text>
<path d="M176,1146 V1119 Q176,1113 182,1113 H263 Q269,1113 269,1119 V1146 Z"/><text x="222.5" y="1131">Second</text>
<path d="M332,1146 V1119 Q332,1113 338,1113 H399 Q405,1113 405,1119 V1146 Z"/><text x="368.5" y="1131">Third</text>
<path d="M473,1146 V1119 Q473,1113 479,1113 H550 Q556,1113 556,1119 V1146 Z"/><text x="514.5" y="1131">Fourth</text>
<path d="M626,1146 V1119 Q626,1113 632,1113 H686 Q692,1113 692,1119 V1146 Z"/><text x="659" y="1131">Fifth</text>
<path d="M771,1146 V1119 Q771,1113 777,1113 H833 Q839,1113 839,1119 V1146 Z"/><text x="805" y="1131">Sixth</text>
<path d="M902,1146 V1119 Q902,1113 908,1113 H994 Q1000,1113 1000,1119 V1146 Z"/><text x="951" y="1131">Seventh</text>
<path d="M1055,1146 V1119 Q1055,1113 1061,1113 H1132 Q1138,1113 1138,1119 V1146 Z"/><text x="1096.5" y="1131">Eighth</text>
<path d="M1206,1146 V1119 Q1206,1113 1212,1113 H1273 Q1279,1113 1279,1119 V1146 Z"/><text x="1242.5" y="1131">Ninth</text>
<path d="M1349,1146 V1119 Q1349,1113 1355,1113 H1422 Q1428,1113 1428,1119 V1146 Z"/><text x="1388.5" y="1131">Tenth</text>
<path d="M1482,1146 V1119 Q1482,1113 1488,1113 H1578 Q1584,1113 1584,1119 V1146 Z"/><text x="1533" y="1131">Eleventh</text>
<path d="M1631,1146 V1119 Q1631,1113 1637,1113 H1721 Q1727,1113 1727,1119 V1146 Z"/><text x="1679" y="1131">Federal</text>
<path d="M1796,1146 V1119 Q1796,1113 1802,1113 H1846 Q1852,1113 1852,1119 V1146 Z"/><text x="1824" y="1131">DC</text>
</g>
</svg>
